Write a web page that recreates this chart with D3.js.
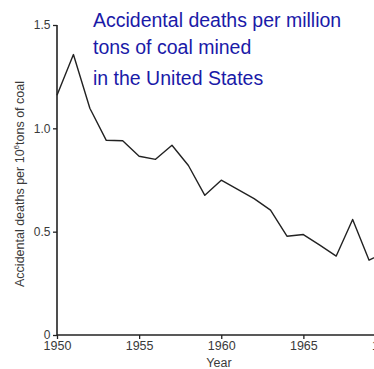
<!DOCTYPE html>
<html><head><meta charset="utf-8">
<script src="https://cdn.jsdelivr.net/npm/d3@7"></script>
<style>body{margin:0;background:#fff;overflow:hidden}svg{display:block}</style>
</head><body>
<script>
const years = [1950,1951,1952,1953,1954,1955,1956,1957,1958,1959,1960,1961,1962,1963,1964,1965,1966,1967,1968,1969,1970];
const deaths = [1.16,1.357,1.097,0.942,0.94,0.865,0.85,0.918,0.82,0.676,0.749,0.705,0.66,0.604,0.478,0.486,0.435,0.382,0.559,0.362,0.40];
const xTicks = [1950,1955,1960,1965,1970];
const yTicks = [0,0.5,1.0,1.5];
const yTickLabels = ["0","0.5","1.0","1.5"];
const titleLines = ["Accidental deaths per million","tons of coal mined","in the United States"];

const W=374,H=369;
const svg=d3.select("body").append("svg").attr("width",W).attr("height",H);
const x=d3.scaleLinear().domain([1950,1970]).range([57,385.5]);
const y=d3.scaleLinear().domain([0,1.5]).range([335,25]);

const font="Liberation Sans, Arial, Helvetica, sans-serif";
const grey="#3a3a3a";

// x axis
const xa=svg.append("g").attr("transform","translate(0,335)")
  .call(d3.axisBottom(x).tickValues(xTicks).tickFormat(d3.format("d")).tickSize(4).tickPadding(2));
xa.select(".domain").attr("d","M57,0H374").attr("stroke","#222").attr("stroke-width",1.6);
xa.selectAll(".tick line").attr("stroke","#222").attr("stroke-width",1.3);
xa.selectAll(".tick text").attr("font-family",font).attr("font-size",12.5).attr("fill",grey);

// y axis
const ya=svg.append("g").attr("transform","translate(57,0)")
  .call(d3.axisLeft(y).tickValues(yTicks).tickFormat((d,i)=>yTickLabels[i]).tickSize(4).tickPadding(2.5));
ya.select(".domain").attr("d","M0,335V25").attr("stroke","#222").attr("stroke-width",1.6);
ya.selectAll(".tick line").attr("stroke","#222").attr("stroke-width",1.3);
ya.selectAll(".tick text").attr("font-family",font).attr("font-size",12).attr("fill",grey);

// line
svg.append("path").datum(years.map((yr,i)=>[yr,deaths[i]]))
  .attr("fill","none").attr("stroke","#222").attr("stroke-width",1.4).attr("stroke-linejoin","round")
  .attr("d",d3.line().x(d=>x(d[0])).y(d=>y(d[1])));

// axis titles
svg.append("text").attr("x",219).attr("y",366.5).attr("text-anchor","middle")
  .attr("font-family",font).attr("font-size",12.5).attr("fill",grey).text("Year");
const yt=svg.append("text").attr("transform","translate(24,184) rotate(-90)").attr("text-anchor","middle")
  .attr("font-family",font).attr("font-size",12.5).attr("fill",grey);
yt.append("tspan").text("Accidental deaths per 10");
yt.append("tspan").attr("font-size",8).attr("dy",-5).text("6");
yt.append("tspan").attr("dy",5).text("tons of coal");

// title
svg.append("g").selectAll("text").data(titleLines).join("text")
  .attr("x",93).attr("y",(d,i)=>[27,54,85][i])
  .attr("font-family",font).attr("font-size",19.5).attr("fill","#1a1aa8").text(d=>d);
</script>
</body></html>
